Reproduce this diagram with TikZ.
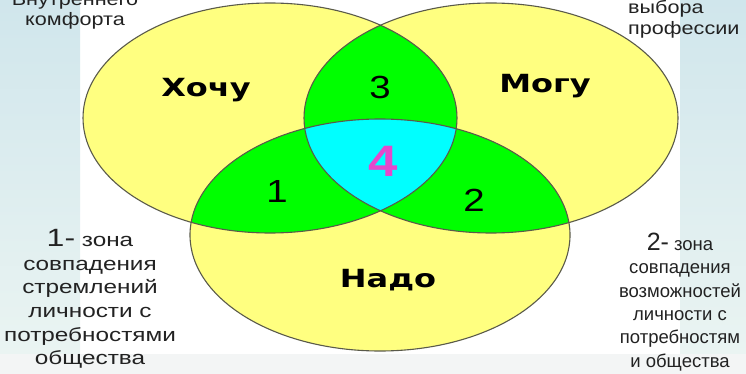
\documentclass[tikz,border=0pt]{standalone}
\usepackage{fontspec}
\setmainfont{Liberation Sans}[FakeStretch=1.2]
\newfontfamily\leftfont{Liberation Sans}[FakeStretch=1.28]
\newfontfamily\rightfont{Liberation Sans}[FakeStretch=1.0]
\newfontfamily\lblfont{DejaVu Sans}[FakeStretch=1.28]
\definecolor{vyellow}{HTML}{FFFF80}
\definecolor{vgreen}{HTML}{00FF00}
\definecolor{vcyan}{HTML}{00FFFF}
\definecolor{vline}{HTML}{5A5A4A}
\definecolor{vpink}{HTML}{E448CC}
\definecolor{bgtop}{HTML}{D0E6EC}
\definecolor{bgbot}{HTML}{EAF4F2}
\definecolor{bgband}{HTML}{F3F5F5}
\definecolor{txt}{HTML}{222222}
\begin{document}
\begin{tikzpicture}[x=1pt,y=-1pt,
  outline/.style={draw=vline,line width=1.1pt},
  setlabel/.style={font=\lblfont\bfseries\fontsize{25}{25}\selectfont,text=black},
  zonenum/.style={font=\fontsize{32}{32}\selectfont,text=black},
  note/.style={text=txt,align=center,inner sep=0pt},
  cornernote/.style={font=\fontsize{18}{20.5}\selectfont,text=txt,inner sep=0pt}]
\useasboundingbox (0,0) rectangle (746,374);
\fill[white] (0,0) rectangle (746,374);
\shade[top color=bgtop,bottom color=bgbot] (0,0) rectangle (80,354);
\shade[top color=bgtop,bottom color=bgbot] (680,0) rectangle (746,354);
\fill[bgband] (0,354) rectangle (746,374);
\def\EA{(270,118) ellipse [x radius=187pt, y radius=115pt]}
\def\EB{(491,118) ellipse [x radius=187pt, y radius=115pt]}
\def\EC{(380,235) ellipse [x radius=190pt, y radius=116pt]}
\fill[vyellow] \EA;
\fill[vyellow] \EB;
\fill[vyellow] \EC;
\begin{scope}
  \clip \EA;
  \fill[vgreen] \EB;
  \fill[vgreen] \EC;
\end{scope}
\begin{scope}
  \clip \EB;
  \fill[vgreen] \EC;
\end{scope}
\begin{scope}
  \clip \EA;
  \clip \EB;
  \fill[vcyan] \EC;
\end{scope}
\draw[outline] \EA;
\draw[outline] \EB;
\draw[outline] \EC;
\node[setlabel] (want) at (206,90) {Хочу};
\node[setlabel] (can) at (545,86) {Могу};
\node[setlabel] (need) at (388,280) {Надо};
\node[zonenum] (z3) at (380,87) {3};
\node[zonenum] (z1) at (277,191) {1};
\node[zonenum] (z2) at (474,200) {2};
\node[font=\bfseries\fontsize{44}{44}\selectfont,text=vpink] (z4) at (383,161) {4};
\node[cornernote,align=center,anchor=base] (tl2) at (75,26) {комфорта};
\node[cornernote,align=center,anchor=base] (tl1) at (75,5.5) {Внутреннего};
\node[cornernote,anchor=base west] (tr1) at (628,14) {выбора};
\node[cornernote,anchor=base west] (tr2) at (628,34.5) {профессии};
\node[note,font=\leftfont\fontsize{19}{23.7}\selectfont,anchor=north] (left) at (90,229) {{\fontsize{25}{25}\selectfont 1-} зона\\совпадения\\стремлений\\личности с\\потребностями\\общества};
\node[note,font=\rightfont\fontsize{18.5}{23.3}\selectfont,anchor=north] (right) at (680,233) {{\fontsize{25}{25}\selectfont 2-} зона\hspace{28pt}\\совпадения\\возможностей\\личности с\\потребностям\\и общества};
\end{tikzpicture}
\end{document}
